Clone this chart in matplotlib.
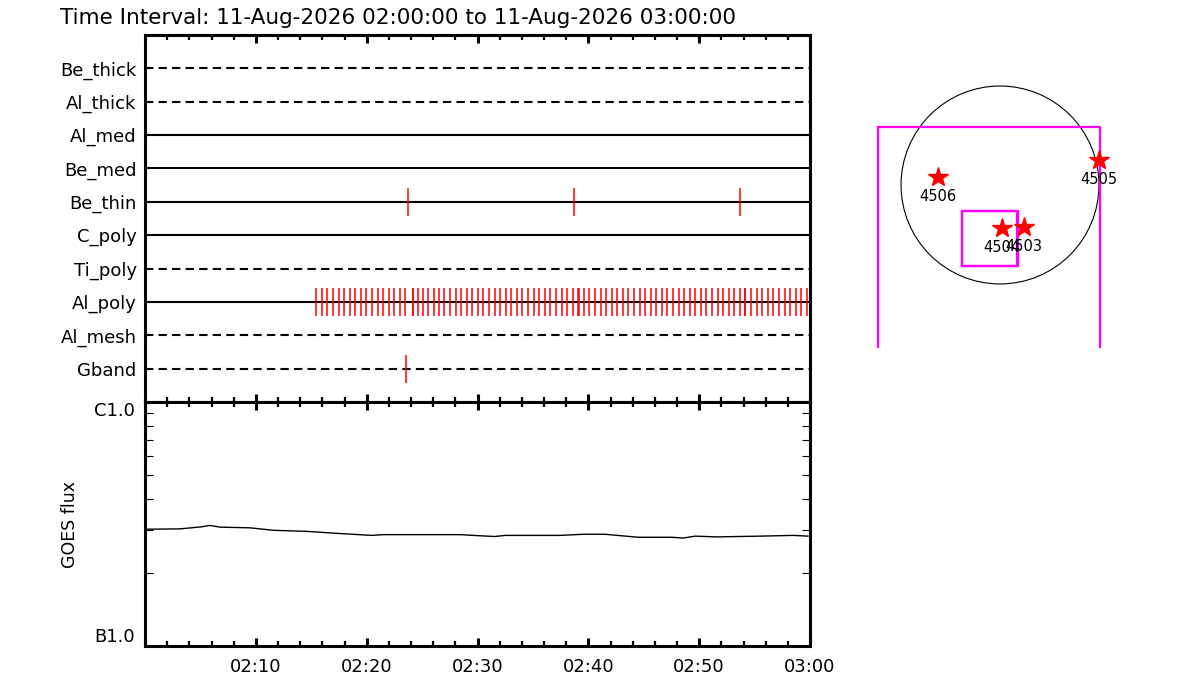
import matplotlib
matplotlib.use('Agg')
import matplotlib.pyplot as plt
from matplotlib.patches import Circle, Rectangle
from matplotlib.ticker import FixedLocator, FuncFormatter, NullFormatter

# ---- data ----
title = 'Time Interval: 11-Aug-2026 02:00:00 to 11-Aug-2026 03:00:00'

channels = ['Be_thick', 'Al_thick', 'Al_med', 'Be_med', 'Be_thin',
            'C_poly', 'Ti_poly', 'Al_poly', 'Al_mesh', 'Gband']
channel_dashed = [True, True, False, False, False,
                  False, True, False, True, True]

# image times in minutes after 02:00
be_thin_times = [23.73, 38.70, 53.68]
gband_times = [23.55]
al_poly_times = [15.45, 15.95, 16.46, 16.96, 17.46, 17.97, 18.47, 18.97,
                 19.47, 19.98, 20.48, 20.98, 21.49, 21.99, 22.49, 23.00,
                 23.50, 24.15, 24.22, 24.60, 25.08, 25.56, 26.04, 26.52,
                 27.02, 27.52, 28.03, 28.53, 29.03, 29.53, 30.04, 30.54,
                 31.04, 31.55, 32.05, 32.55, 33.06, 33.56, 34.06, 34.56,
                 35.07, 35.57, 36.07, 36.58, 37.08, 37.58, 38.09, 38.59,
                 39.05, 39.12, 39.59, 40.10, 40.60, 41.10, 41.61, 42.11,
                 42.61, 43.12, 43.62, 44.12, 44.62, 45.13, 45.63, 46.13,
                 46.64, 47.14, 47.64, 48.15, 48.65, 49.15, 49.65, 50.16,
                 50.66, 51.16, 51.67, 52.17, 52.67, 53.18, 53.68, 54.10,
                 54.17, 54.68, 55.19, 55.69, 56.19, 56.70, 57.20, 57.70,
                 58.21, 58.71, 59.21, 59.71]

goes_t = [0.18, 3.16, 5.12, 5.86, 6.77, 9.47, 11.58, 14.59, 17.59, 20.45,
          21.50, 28.42, 30.23, 31.58, 32.48, 37.44, 39.55, 41.50, 44.51,
          47.52, 48.57, 49.63, 51.58, 55.49, 58.49, 59.82]
goes_flux = [3.01e-7, 3.02e-7, 3.08e-7, 3.12e-7, 3.07e-7, 3.05e-7, 2.98e-7,
             2.95e-7, 2.89e-7, 2.84e-7, 2.86e-7, 2.86e-7, 2.83e-7, 2.81e-7,
             2.84e-7, 2.84e-7, 2.87e-7, 2.87e-7, 2.79e-7, 2.79e-7, 2.77e-7,
             2.82e-7, 2.80e-7, 2.82e-7, 2.84e-7, 2.82e-7]

# solar disk panel, arcsec
sun_radius = 960
ar_names = ['4506', '4505', '4504', '4503']
ar_x = [-604, 957, 22, 230]
ar_y = [81, 243, -414, -404]
# field of view boxes: x0, y0, width, height
fov_boxes = [(-1186, -2500, 2153, 3060),
             (-371, -789, 533, 540),
             (-368, -789, 540, 540)]


def hhmm(v, pos):
    m = int(round(v))
    if m == 0:
        return ''
    return '%02d:%02d' % (2 + m // 60, m % 60)


plt.rcParams['font.family'] = 'DejaVu Sans'
fig = plt.figure(figsize=(12, 7), dpi=100)

fig.text(60 / 1200, 1 - 24 / 700, title, fontsize=15.5, va='baseline')

# ---- top panel: image time lines ----
ax1 = fig.add_axes([145 / 1200, 1 - 402 / 700, 665 / 1200, 367 / 700])
for i, (name, dashed) in enumerate(zip(channels, channel_dashed)):
    ls = (0, (4, 2.5)) if dashed else '-'
    ax1.axhline(i + 1, color='black', lw=1.5, ls=ls)

row = {n: i + 1 for i, n in enumerate(channels)}
ax1.vlines(be_thin_times, row['Be_thin'] - 0.42, row['Be_thin'] + 0.42,
           color='red', lw=1.1)
ax1.vlines(gband_times, row['Gband'] - 0.42, row['Gband'] + 0.42,
           color='red', lw=1.1)
ax1.vlines(al_poly_times, row['Al_poly'] - 0.42, row['Al_poly'] + 0.42,
           color='red', lw=1.1)

ax1.set_xlim(0, 60)
ax1.set_ylim(11, 0)
ax1.set_yticks(range(1, 11), channels)
ax1.tick_params(axis='y', length=0, pad=6, labelsize=13)
ax1.xaxis.set_major_locator(FixedLocator(range(0, 61, 10)))
ax1.xaxis.set_minor_locator(FixedLocator(range(0, 61, 2)))
ax1.tick_params(axis='x', which='both', direction='in', top=True,
                bottom=True, labelbottom=False)
ax1.tick_params(axis='x', which='major', length=6, width=2.2)
ax1.tick_params(axis='x', which='minor', length=3.5, width=1.6)
for s in ax1.spines.values():
    s.set_linewidth(2.2)

# ---- bottom panel: GOES flux ----
ax2 = fig.add_axes([145 / 1200, 1 - 646 / 700, 665 / 1200, 244 / 700])
ax2.plot(goes_t, goes_flux, color='black', lw=1.0)
ax2.set_yscale('log')
ax2.set_ylim(1e-7, 1e-6)
ax2.set_xlim(0, 60)
ax2.set_yticks([1e-7, 1e-6], ['B1.0', 'C1.0'])
ax2.yaxis.set_minor_locator(FixedLocator([k * 1e-7 for k in range(2, 10)]))
ax2.yaxis.set_minor_formatter(NullFormatter())
ax2.tick_params(axis='y', which='major', length=0, pad=7, labelsize=13)
ax2.tick_params(axis='y', which='minor', direction='in', left=True,
                right=True, length=6, width=0.8)
for lab, va in zip(ax2.get_yticklabels(), ['bottom', 'top']):
    lab.set_verticalalignment(va)
ax2.xaxis.set_major_locator(FixedLocator(range(0, 61, 10)))
ax2.xaxis.set_minor_locator(FixedLocator(range(0, 61, 2)))
ax2.xaxis.set_major_formatter(FuncFormatter(hhmm))
ax2.tick_params(axis='x', which='both', direction='in', top=True,
                bottom=True, labelsize=13, pad=9)
ax2.tick_params(axis='x', which='major', length=6, width=2.2)
ax2.tick_params(axis='x', which='minor', length=3.5, width=1.6)
for s in ax2.spines.values():
    s.set_linewidth(2.2)
fig.text(70 / 1200, 1 - 525 / 700, 'GOES flux', rotation=90,
         ha='center', va='center', fontsize=12.5)

# ---- right panel: solar disk with active regions ----
ax3 = fig.add_axes([860 / 1200, 1 - 348 / 700, 260 / 1200, 268 / 700])
ax3.set_xlim(-1358, 1164)
ax3.set_ylim(-1581, 1018)
ax3.set_aspect('equal')
ax3.axis('off')
ax3.add_patch(Circle((0, 0), sun_radius, fill=False, ec='black', lw=0.8))
for x0, y0, w, h in fov_boxes:
    ax3.add_patch(Rectangle((x0, y0), w, h, fill=False, ec='magenta', lw=1.6))
ax3.plot(ar_x, ar_y, ls='none', marker='*', ms=15, color='red', mec='red')
# labels of the two close regions overlap in the reference as well
for name, x, y in zip(ar_names, ar_x, ar_y):
    ax3.annotate(name, (x, y), xytext=(0, -14), textcoords='offset points',
                 ha='center', va='center', fontsize=10.5)

fig.savefig('out.png', dpi=100)
